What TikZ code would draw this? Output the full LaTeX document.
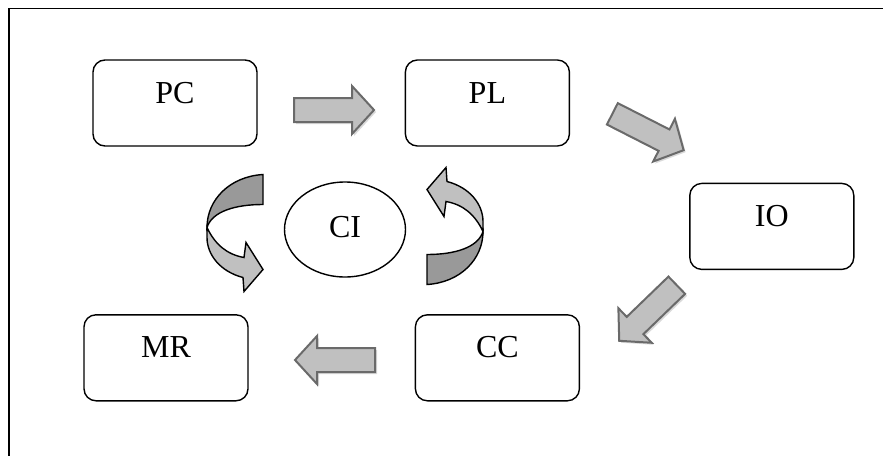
\documentclass[tikz,border=0pt]{standalone}
\usepackage{fontspec}
\setmainfont{Liberation Serif}
\usepackage{xcolor}
\usetikzlibrary{positioning,shapes.geometric}

\definecolor{arrowgray}{HTML}{C0C0C0}
\definecolor{edgegray}{HTML}{6A6A6A}
\definecolor{bandfront}{HTML}{C0C0C0}
\definecolor{bandback}{HTML}{999999}

\begin{document}
\begin{tikzpicture}[
  x=0.5pt, y=-0.5pt,
  box/.style={draw, rounded corners=6pt, line width=0.7pt, minimum width=82pt, minimum height=43pt, text height=12pt, text depth=12pt, font=\fontsize{16}{19}\selectfont},
  hub/.style={draw, ellipse, line width=0.7pt, inner sep=0pt, minimum width=60.5pt, minimum height=47.5pt, text depth=3pt, font=\fontsize{16}{19}\selectfont},
  pics/blockarrow/.style={code={
    \fill[gray!30, shift={(2,2)}, rotate=#1] (-40,-12) -- (18,-12) -- (18,-24) -- (40,0) -- (18,24) -- (18,12) -- (-40,12) -- cycle;
    \filldraw[fill=arrowgray, draw=edgegray, line width=1pt, line join=miter, rotate=#1] (-40,-12) -- (18,-12) -- (18,-24) -- (40,0) -- (18,24) -- (18,12) -- (-40,12) -- cycle;
  }},
  pics/twist/.style={code={
    \filldraw[fill=bandback, line width=0.7pt] (-82,-55) .. controls (-115,-53) and (-138,-30) .. (-138,-2) .. controls (-133,-18) and (-110,-25) .. (-82,-25) -- cycle;
    \filldraw[fill=bandfront, line width=0.7pt] (-138,-2) .. controls (-130,15) and (-118,25) .. (-101,28) -- (-99,13) -- (-82,40) -- (-101,62) -- (-102,48) .. controls (-125,42) and (-138,25) .. (-138,8) -- cycle;
  }}
]
\useasboundingbox (0,0) rectangle (883,455);
\draw[line width=0.8pt] (9,8.5) rectangle (900,480);

\node[box] (pc) at (175,103) {PC};
\node[box, right=73.5pt of pc] (pl) {PL};
\node[box, below right=18pt and 59.5pt of pl] (io) {IO};
\node[box, below left=22pt and 54.5pt of io] (cc) {CC};
\node[box, left=83pt of cc] (mr) {MR};
\node[hub] (ci) at (345,229.5) {CI};

\pic at (334,110) {blockarrow=0};
\pic at (648,132) {blockarrow=-27};
\pic at (648,313) {blockarrow=-136};
\pic at (335,360) {blockarrow=180};

\pic at (ci.center) {twist};
\pic[rotate=180] at (ci.center) {twist};
\end{tikzpicture}
\end{document}
